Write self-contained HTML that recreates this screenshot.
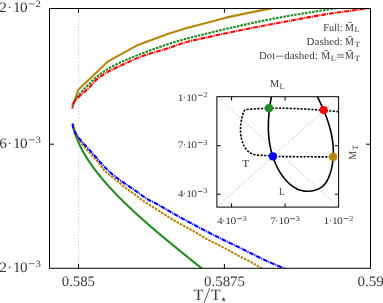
<!DOCTYPE html>
<html><head><meta charset="utf-8"><title>plot</title>
<style>html,body{margin:0;padding:0;background:#fff;overflow:hidden}svg{display:block;will-change:transform}text{font-family:"Liberation Serif",serif;text-rendering:geometricPrecision}</style></head>
<body>
<svg width="383" height="303" viewBox="0 0 383 303">
<rect width="383" height="303" fill="#fff"/>
<clipPath id="c"><rect x="49.5" y="8.5" width="321.0" height="259.8"/></clipPath>
<clipPath id="ci"><rect x="216.9" y="96.7" width="121.7" height="110.4"/></clipPath>
<line x1="78.5" y1="8.5" x2="78.5" y2="268.3" stroke="#bdbdc4" stroke-width="0.8" stroke-dasharray="1 2.1"/>
<g clip-path="url(#c)" fill="none" stroke-width="2.1" stroke-linejoin="round">
<path d="M73.10 105.40 L78.30 89.70 L108.50 61.10 L138.50 44.70 L168.50 33.75 L186.00 28.20 L206.00 23.00 L226.00 17.65 L246.00 13.40 L266.00 9.40 L272.50 8.10" stroke="#B8860B"/>
<path d="M339.88 7.50 L338.40 7.75 L336.91 8.00 L335.41 8.24 L333.90 8.49 L332.38 8.74 L330.85 8.99 L329.32 9.24 L327.78 9.48 L326.24 9.73 L324.69 9.98 L323.14 10.23 L321.58 10.48 L320.02 10.73 L318.46 10.97 L316.90 11.22 L315.34 11.47 L313.78 11.72 L312.22 11.97 L310.67 12.21 L309.11 12.46 L307.57 12.71 L306.02 12.96 L304.48 13.21 L302.95 13.45 L301.42 13.70 L299.90 13.95 L298.39 14.20 L296.89 14.45 L295.39 14.70 L293.91 14.94 L292.44 15.19 L290.98 15.44 L289.53 15.69 L288.10 15.94 L286.68 16.18 L285.28 16.43 L283.89 16.68 L282.51 16.93 L281.15 17.18 L279.81 17.42 L278.47 17.67 L277.15 17.92 L275.84 18.17 L274.55 18.42 L273.26 18.67 L271.99 18.91 L270.73 19.16 L269.48 19.41 L268.24 19.66 L267.01 19.91 L265.79 20.15 L264.58 20.40 L263.38 20.65 L262.19 20.90 L261.00 21.15 L259.83 21.39 L258.66 21.64 L257.50 21.89 L256.34 22.14 L255.20 22.39 L254.06 22.64 L252.92 22.88 L251.79 23.13 L250.67 23.38 L249.55 23.63 L248.43 23.88 L247.32 24.12 L246.21 24.37 L245.11 24.62 L244.01 24.87 L242.91 25.12 L241.82 25.36 L240.73 25.61 L239.64 25.86 L238.56 26.11 L237.48 26.36 L236.40 26.61 L235.32 26.85 L234.25 27.10 L233.18 27.35 L232.11 27.60 L231.05 27.85 L229.99 28.09 L228.93 28.34 L227.87 28.59 L226.81 28.84 L225.76 29.09 L224.71 29.33 L223.66 29.58 L222.61 29.83 L221.56 30.08 L220.52 30.33 L219.48 30.58 L218.44 30.82 L217.40 31.07 L216.36 31.32 L215.33 31.57 L214.29 31.82 L213.26 32.06 L212.23 32.31 L211.20 32.56 L210.17 32.81 L209.14 33.06 L208.11 33.30 L207.08 33.55 L206.06 33.80 L205.03 34.05 L204.01 34.30 L202.98 34.55 L201.96 34.79 L200.94 35.04 L199.93 35.29 L198.92 35.54 L197.91 35.79 L196.90 36.03 L195.90 36.28 L194.91 36.53 L193.92 36.78 L192.93 37.03 L191.95 37.27 L190.98 37.52 L190.02 37.77 L189.06 38.02 L188.11 38.27 L187.18 38.52 L186.24 38.76 L185.32 39.01 L184.41 39.26 L183.51 39.51 L182.61 39.76 L181.72 40.00 L180.85 40.25 L179.97 40.50 L179.11 40.75 L178.26 41.00 L177.41 41.24 L176.57 41.49 L175.74 41.74 L174.91 41.99 L174.09 42.24 L173.28 42.48 L172.48 42.73 L171.68 42.98 L170.89 43.23 L170.10 43.48 L169.32 43.73 L168.55 43.97 L167.78 44.22 L167.01 44.47 L166.26 44.72 L165.50 44.97 L164.76 45.21 L164.01 45.46 L163.28 45.71 L162.54 45.96 L161.81 46.21 L161.09 46.45 L160.37 46.70 L159.65 46.95 L158.94 47.20 L158.23 47.45 L157.53 47.70 L156.82 47.94 L156.12 48.19 L155.43 48.44 L154.73 48.69 L154.04 48.94 L153.36 49.18 L152.67 49.43 L151.99 49.68 L151.31 49.93 L150.63 50.18 L149.96 50.42 L149.29 50.67 L148.62 50.92 L147.95 51.17 L147.29 51.42 L146.63 51.67 L145.97 51.91 L145.32 52.16 L144.66 52.41 L144.01 52.66 L143.37 52.91 L142.72 53.15 L142.08 53.40 L141.44 53.65 L140.80 53.90 L140.17 54.15 L139.54 54.39 L138.91 54.64 L138.28 54.89 L137.66 55.14 L137.03 55.39 L136.41 55.64 L135.80 55.88 L135.18 56.13 L134.57 56.38 L133.96 56.63 L133.36 56.88 L132.75 57.12 L132.15 57.37 L131.55 57.62 L130.95 57.87 L130.36 58.12 L129.76 58.36 L129.17 58.61 L128.58 58.86 L128.00 59.11 L127.41 59.36 L126.83 59.61 L126.25 59.85 L125.68 60.10 L125.10 60.35 L124.53 60.60 L123.96 60.85 L123.40 61.09 L122.83 61.34 L122.28 61.59 L121.72 61.84 L121.17 62.09 L120.62 62.33 L120.07 62.58 L119.53 62.83 L119.00 63.08 L118.46 63.33 L117.94 63.58 L117.41 63.82 L116.89 64.07 L116.38 64.32 L115.87 64.57 L115.37 64.82 L114.87 65.06 L114.38 65.31 L113.90 65.56 L113.42 65.81 L112.94 66.06 L112.47 66.30 L112.01 66.55 L111.55 66.80 L111.09 67.05 L110.64 67.30 L110.20 67.55 L109.76 67.79 L109.32 68.04 L108.89 68.29 L108.47 68.54 L108.05 68.79 L107.63 69.03 L107.22 69.28 L106.82 69.53 L106.41 69.78 L106.02 70.03 L105.62 70.27 L105.23 70.52 L104.85 70.77 L104.47 71.02 L104.09 71.27 L103.72 71.52 L103.35 71.76 L102.99 72.01 L102.63 72.26 L102.27 72.51 L101.92 72.76 L101.57 73.00 L101.22 73.25 L100.88 73.50 L100.54 73.75 L100.21 74.00 L99.87 74.24 L99.55 74.49 L99.22 74.74 L98.90 74.99 L98.58 75.24 L98.26 75.48 L97.95 75.73 L97.64 75.98 L97.34 76.23 L97.03 76.48 L96.73 76.73 L96.43 76.97 L96.14 77.22 L95.84 77.47 L95.55 77.72 L95.27 77.97 L94.98 78.21 L94.70 78.46 L94.42 78.71 L94.14 78.96 L93.86 79.21 L93.59 79.45 L93.32 79.70 L93.05 79.95 L92.78 80.20 L92.52 80.45 L92.25 80.70 L91.99 80.94 L91.73 81.19 L91.47 81.44 L91.22 81.69 L90.96 81.94 L90.71 82.18 L90.46 82.43 L90.20 82.68 L89.95 82.93 L89.71 83.18 L89.46 83.42 L89.21 83.67 L88.97 83.92 L88.73 84.17 L88.48 84.42 L88.24 84.67 L88.00 84.91 L87.76 85.16 L87.52 85.41 L87.28 85.66 L87.05 85.91 L86.81 86.15 L86.57 86.40 L86.34 86.65 L86.10 86.90 L85.87 87.15 L85.63 87.39 L85.40 87.64 L85.16 87.89 L84.93 88.14 L84.69 88.39 L84.46 88.64 L84.22 88.88 L83.99 89.13 L83.76 89.38 L83.52 89.63 L83.29 89.88 L83.06 90.12 L82.83 90.37 L82.60 90.62 L82.37 90.87 L82.14 91.12 L81.92 91.36 L81.69 91.61 L81.47 91.86 L81.24 92.11 L81.02 92.36 L80.80 92.61 L80.58 92.85 L80.36 93.10 L80.15 93.35 L79.93 93.60 L79.72 93.85 L79.51 94.09 L79.30 94.34 L79.10 94.59 L78.89 94.84 L78.69 95.09 L78.49 95.33 L78.29 95.58 L78.09 95.83 L77.90 96.08 L77.71 96.33 L77.52 96.58 L77.34 96.82 L77.15 97.07 L76.97 97.32 L76.80 97.57 L76.62 97.82 L76.45 98.06 L76.29 98.31 L76.12 98.56 L75.96 98.81 L75.80 99.06 L75.65 99.30 L75.50 99.55 L75.35 99.80 L75.20 100.05 L75.06 100.30 L74.93 100.55 L74.80 100.79 L74.67 101.04 L74.54 101.29 L74.42 101.54 L74.31 101.79 L74.19 102.03 L74.09 102.28 L73.98 102.53 L73.88 102.78 L73.79 103.03 L73.70 103.27 L73.62 103.52 L73.54 103.77 L73.46 104.02 L73.39 104.27 L73.32 104.52 L73.26 104.76 L73.21 105.01 L73.16 105.26 L73.11 105.51 L73.07 105.76 L73.04 106.00 L73.01 106.25 L72.99 106.50" stroke="#228B22" stroke-dasharray="2.6 1.05"/>
<path d="M371.79 7.50 L370.40 7.75 L368.95 8.01 L367.45 8.26 L365.89 8.51 L364.29 8.77 L362.65 9.02 L360.96 9.27 L359.25 9.53 L357.50 9.78 L355.73 10.03 L353.94 10.28 L352.14 10.54 L350.32 10.79 L348.49 11.04 L346.66 11.30 L344.83 11.55 L343.00 11.80 L341.18 12.06 L339.37 12.31 L337.57 12.56 L335.79 12.82 L334.03 13.07 L332.29 13.32 L330.58 13.58 L328.90 13.83 L327.24 14.08 L325.62 14.33 L324.03 14.59 L322.47 14.84 L320.94 15.09 L319.44 15.35 L317.96 15.60 L316.50 15.85 L315.06 16.11 L313.64 16.36 L312.23 16.61 L310.83 16.87 L309.45 17.12 L308.07 17.37 L306.70 17.63 L305.33 17.88 L303.97 18.13 L302.61 18.38 L301.24 18.64 L299.88 18.89 L298.52 19.14 L297.16 19.40 L295.80 19.65 L294.44 19.90 L293.08 20.16 L291.72 20.41 L290.36 20.66 L289.00 20.92 L287.63 21.17 L286.27 21.42 L284.91 21.68 L283.54 21.93 L282.17 22.18 L280.81 22.43 L279.44 22.69 L278.08 22.94 L276.71 23.19 L275.35 23.45 L273.99 23.70 L272.64 23.95 L271.29 24.21 L269.94 24.46 L268.60 24.71 L267.26 24.97 L265.93 25.22 L264.61 25.47 L263.29 25.73 L261.98 25.98 L260.67 26.23 L259.37 26.48 L258.07 26.74 L256.78 26.99 L255.50 27.24 L254.22 27.50 L252.94 27.75 L251.67 28.00 L250.41 28.26 L249.15 28.51 L247.89 28.76 L246.64 29.02 L245.39 29.27 L244.15 29.52 L242.91 29.78 L241.67 30.03 L240.44 30.28 L239.21 30.54 L237.98 30.79 L236.76 31.04 L235.54 31.29 L234.33 31.55 L233.11 31.80 L231.90 32.05 L230.69 32.31 L229.48 32.56 L228.28 32.81 L227.07 33.07 L225.87 33.32 L224.67 33.57 L223.48 33.83 L222.28 34.08 L221.08 34.33 L219.89 34.59 L218.70 34.84 L217.50 35.09 L216.31 35.34 L215.12 35.60 L213.93 35.85 L212.74 36.10 L211.55 36.36 L210.36 36.61 L209.16 36.86 L207.97 37.12 L206.78 37.37 L205.59 37.62 L204.40 37.88 L203.20 38.13 L202.01 38.38 L200.83 38.64 L199.65 38.89 L198.49 39.14 L197.33 39.39 L196.18 39.65 L195.05 39.90 L193.94 40.15 L192.84 40.41 L191.76 40.66 L190.71 40.91 L189.68 41.17 L188.67 41.42 L187.70 41.67 L186.75 41.93 L185.83 42.18 L184.94 42.43 L184.08 42.69 L183.25 42.94 L182.44 43.19 L181.65 43.44 L180.88 43.70 L180.13 43.95 L179.40 44.20 L178.68 44.46 L177.97 44.71 L177.27 44.96 L176.57 45.22 L175.89 45.47 L175.20 45.72 L174.52 45.98 L173.83 46.23 L173.14 46.48 L172.44 46.74 L171.74 46.99 L171.03 47.24 L170.30 47.49 L169.57 47.75 L168.81 48.00 L168.04 48.25 L167.26 48.51 L166.46 48.76 L165.65 49.01 L164.83 49.27 L164.00 49.52 L163.16 49.77 L162.32 50.03 L161.46 50.28 L160.61 50.53 L159.74 50.79 L158.88 51.04 L158.01 51.29 L157.14 51.55 L156.27 51.80 L155.41 52.05 L154.54 52.30 L153.68 52.56 L152.83 52.81 L151.98 53.06 L151.14 53.32 L150.30 53.57 L149.48 53.82 L148.66 54.08 L147.86 54.33 L147.07 54.58 L146.30 54.84 L145.53 55.09 L144.79 55.34 L144.05 55.60 L143.33 55.85 L142.62 56.10 L141.92 56.35 L141.23 56.61 L140.55 56.86 L139.88 57.11 L139.23 57.37 L138.58 57.62 L137.94 57.87 L137.31 58.13 L136.69 58.38 L136.08 58.63 L135.47 58.89 L134.88 59.14 L134.28 59.39 L133.70 59.65 L133.12 59.90 L132.55 60.15 L131.98 60.40 L131.41 60.66 L130.85 60.91 L130.29 61.16 L129.74 61.42 L129.19 61.67 L128.64 61.92 L128.09 62.18 L127.54 62.43 L127.00 62.68 L126.45 62.94 L125.90 63.19 L125.36 63.44 L124.81 63.70 L124.26 63.95 L123.71 64.20 L123.15 64.45 L122.60 64.71 L122.04 64.96 L121.48 65.21 L120.92 65.47 L120.36 65.72 L119.80 65.97 L119.24 66.23 L118.68 66.48 L118.12 66.73 L117.57 66.99 L117.02 67.24 L116.48 67.49 L115.93 67.75 L115.40 68.00 L114.87 68.25 L114.34 68.51 L113.82 68.76 L113.31 69.01 L112.80 69.26 L112.29 69.52 L111.79 69.77 L111.30 70.02 L110.81 70.28 L110.33 70.53 L109.85 70.78 L109.38 71.04 L108.91 71.29 L108.45 71.54 L108.00 71.80 L107.54 72.05 L107.10 72.30 L106.66 72.56 L106.22 72.81 L105.79 73.06 L105.37 73.31 L104.95 73.57 L104.54 73.82 L104.13 74.07 L103.72 74.33 L103.33 74.58 L102.93 74.83 L102.55 75.09 L102.16 75.34 L101.79 75.59 L101.42 75.85 L101.05 76.10 L100.69 76.35 L100.33 76.61 L99.98 76.86 L99.64 77.11 L99.30 77.36 L98.96 77.62 L98.63 77.87 L98.31 78.12 L97.99 78.38 L97.68 78.63 L97.37 78.88 L97.07 79.14 L96.77 79.39 L96.48 79.64 L96.19 79.90 L95.91 80.15 L95.63 80.40 L95.36 80.66 L95.09 80.91 L94.83 81.16 L94.58 81.41 L94.33 81.67 L94.08 81.92 L93.84 82.17 L93.60 82.43 L93.37 82.68 L93.14 82.93 L92.92 83.19 L92.69 83.44 L92.47 83.69 L92.25 83.95 L92.03 84.20 L91.82 84.45 L91.60 84.71 L91.38 84.96 L91.17 85.21 L90.95 85.46 L90.73 85.72 L90.51 85.97 L90.29 86.22 L90.07 86.48 L89.84 86.73 L89.61 86.98 L89.38 87.24 L89.14 87.49 L88.91 87.74 L88.66 88.00 L88.41 88.25 L88.16 88.50 L87.90 88.76 L87.64 89.01 L87.37 89.26 L87.10 89.52 L86.83 89.77 L86.55 90.02 L86.27 90.27 L85.99 90.53 L85.70 90.78 L85.41 91.03 L85.12 91.29 L84.83 91.54 L84.54 91.79 L84.24 92.05 L83.94 92.30 L83.65 92.55 L83.35 92.81 L83.05 93.06 L82.75 93.31 L82.45 93.57 L82.15 93.82 L81.85 94.07 L81.55 94.32 L81.26 94.58 L80.96 94.83 L80.66 95.08 L80.37 95.34 L80.08 95.59 L79.79 95.84 L79.50 96.10 L79.21 96.35 L78.93 96.60 L78.65 96.86 L78.37 97.11 L78.10 97.36 L77.83 97.62 L77.56 97.87 L77.30 98.12 L77.04 98.37 L76.79 98.63 L76.54 98.88 L76.30 99.13 L76.06 99.39 L75.82 99.64 L75.59 99.89 L75.37 100.15 L75.16 100.40 L74.95 100.65 L74.74 100.91 L74.55 101.16 L74.36 101.41 L74.17 101.67 L74.00 101.92 L73.83 102.17 L73.67 102.42 L73.52 102.68 L73.38 102.93 L73.24 103.18 L73.12 103.44 L73.00 103.69 L72.89 103.94 L72.79 104.20 L72.71 104.45 L72.63 104.70 L72.56 104.96 L72.50 105.21 L72.45 105.46 L72.42 105.72 L72.39 105.97 L72.38 106.22 L72.38 106.47 L72.39 106.73 L72.41 106.98 L72.44 107.23 L72.49 107.49 L72.54 107.74 L72.62 107.99 L72.70 108.25 L72.80 108.50" stroke="#FF0000" stroke-dasharray="4.8 0.9 1.1 0.9"/>
<path d="M72.56 123.70 L72.63 124.06 L72.70 124.43 L72.77 124.79 L72.85 125.16 L72.93 125.52 L73.00 125.89 L73.09 126.25 L73.17 126.62 L73.25 126.98 L73.34 127.35 L73.43 127.71 L73.52 128.08 L73.61 128.44 L73.71 128.81 L73.80 129.17 L73.90 129.54 L74.00 129.90 L74.10 130.27 L74.21 130.63 L74.31 131.00 L74.42 131.36 L74.53 131.73 L74.64 132.09 L74.75 132.46 L74.87 132.82 L74.98 133.19 L75.10 133.55 L75.22 133.92 L75.34 134.28 L75.47 134.65 L75.59 135.01 L75.72 135.38 L75.85 135.74 L75.98 136.11 L76.11 136.47 L76.25 136.84 L76.38 137.20 L76.52 137.57 L76.66 137.93 L76.80 138.30 L76.94 138.66 L77.09 139.03 L77.23 139.39 L77.38 139.76 L77.53 140.12 L77.68 140.49 L77.84 140.85 L77.99 141.22 L78.15 141.58 L78.31 141.95 L78.47 142.31 L78.63 142.68 L78.79 143.04 L78.96 143.41 L79.13 143.77 L79.29 144.14 L79.46 144.50 L79.64 144.86 L79.81 145.23 L79.99 145.59 L80.16 145.96 L80.34 146.32 L80.52 146.69 L80.70 147.05 L80.89 147.42 L81.07 147.78 L81.26 148.15 L81.45 148.51 L81.64 148.88 L81.83 149.24 L82.02 149.61 L82.21 149.97 L82.41 150.34 L82.61 150.70 L82.81 151.07 L83.01 151.43 L83.21 151.80 L83.42 152.16 L83.62 152.53 L83.83 152.89 L84.04 153.26 L84.25 153.62 L84.46 153.99 L84.67 154.35 L84.89 154.72 L85.10 155.08 L85.32 155.45 L85.54 155.81 L85.76 156.18 L85.98 156.54 L86.21 156.91 L86.43 157.27 L86.66 157.64 L86.89 158.00 L87.12 158.37 L87.35 158.73 L87.58 159.10 L87.82 159.46 L88.05 159.83 L88.29 160.19 L88.53 160.56 L88.77 160.92 L89.01 161.29 L89.25 161.65 L89.50 162.02 L89.74 162.38 L89.99 162.75 L90.24 163.11 L90.49 163.48 L90.74 163.84 L90.99 164.21 L91.25 164.57 L91.50 164.94 L91.76 165.30 L92.02 165.66 L92.28 166.03 L92.54 166.39 L92.80 166.76 L93.07 167.12 L93.33 167.49 L93.60 167.85 L93.87 168.22 L94.14 168.58 L94.41 168.95 L94.68 169.31 L94.95 169.68 L95.23 170.04 L95.50 170.41 L95.78 170.77 L96.06 171.14 L96.34 171.50 L96.62 171.87 L96.90 172.23 L97.19 172.60 L97.47 172.96 L97.76 173.33 L98.05 173.69 L98.34 174.06 L98.63 174.42 L98.92 174.79 L99.21 175.15 L99.51 175.52 L99.80 175.88 L100.10 176.25 L100.40 176.61 L100.69 176.98 L100.99 177.34 L101.30 177.71 L101.60 178.07 L101.90 178.44 L102.21 178.80 L102.51 179.17 L102.82 179.53 L103.13 179.90 L103.44 180.26 L103.75 180.63 L104.06 180.99 L104.38 181.36 L104.69 181.72 L105.01 182.09 L105.33 182.45 L105.64 182.82 L105.96 183.18 L106.28 183.55 L106.61 183.91 L106.93 184.28 L107.25 184.64 L107.58 185.01 L107.90 185.37 L108.23 185.74 L108.56 186.10 L108.89 186.46 L109.22 186.83 L109.55 187.19 L109.88 187.56 L110.22 187.92 L110.55 188.29 L110.89 188.65 L111.23 189.02 L111.56 189.38 L111.90 189.75 L112.24 190.11 L112.58 190.48 L112.93 190.84 L113.27 191.21 L113.61 191.57 L113.96 191.94 L114.31 192.30 L114.65 192.67 L115.00 193.03 L115.35 193.40 L115.70 193.76 L116.06 194.13 L116.41 194.49 L116.76 194.86 L117.12 195.22 L117.47 195.59 L117.83 195.95 L118.19 196.32 L118.55 196.68 L118.90 197.05 L119.27 197.41 L119.63 197.78 L119.99 198.14 L120.35 198.51 L120.72 198.87 L121.08 199.24 L121.45 199.60 L121.82 199.97 L122.18 200.33 L122.55 200.70 L122.92 201.06 L123.29 201.43 L123.67 201.79 L124.04 202.16 L124.41 202.52 L124.79 202.89 L125.16 203.25 L125.54 203.62 L125.92 203.98 L126.29 204.35 L126.67 204.71 L127.05 205.08 L127.43 205.44 L127.81 205.81 L128.20 206.17 L128.58 206.54 L128.96 206.90 L129.35 207.26 L129.73 207.63 L130.12 207.99 L130.51 208.36 L130.90 208.72 L131.28 209.09 L131.67 209.45 L132.07 209.82 L132.46 210.18 L132.85 210.55 L133.24 210.91 L133.64 211.28 L134.03 211.64 L134.42 212.01 L134.82 212.37 L135.22 212.74 L135.62 213.10 L136.01 213.47 L136.41 213.83 L136.81 214.20 L137.21 214.56 L137.61 214.93 L138.02 215.29 L138.42 215.66 L138.82 216.02 L139.23 216.39 L139.63 216.75 L140.04 217.12 L140.44 217.48 L140.85 217.85 L141.26 218.21 L141.67 218.58 L142.08 218.94 L142.49 219.31 L142.90 219.67 L143.31 220.04 L143.72 220.40 L144.13 220.77 L144.54 221.13 L144.96 221.50 L145.37 221.86 L145.79 222.23 L146.20 222.59 L146.62 222.96 L147.04 223.32 L147.45 223.69 L147.87 224.05 L148.29 224.42 L148.71 224.78 L149.13 225.15 L149.55 225.51 L149.97 225.88 L150.39 226.24 L150.81 226.61 L151.24 226.97 L151.66 227.34 L152.08 227.70 L152.51 228.06 L152.93 228.43 L153.36 228.79 L153.79 229.16 L154.21 229.52 L154.64 229.89 L155.07 230.25 L155.50 230.62 L155.92 230.98 L156.35 231.35 L156.78 231.71 L157.21 232.08 L157.65 232.44 L158.08 232.81 L158.51 233.17 L158.94 233.54 L159.37 233.90 L159.81 234.27 L160.24 234.63 L160.68 235.00 L161.11 235.36 L161.55 235.73 L161.98 236.09 L162.42 236.46 L162.85 236.82 L163.29 237.19 L163.73 237.55 L164.17 237.92 L164.60 238.28 L165.04 238.65 L165.48 239.01 L165.92 239.38 L166.36 239.74 L166.80 240.11 L167.24 240.47 L167.68 240.84 L168.13 241.20 L168.57 241.57 L169.01 241.93 L169.45 242.30 L169.90 242.66 L170.34 243.03 L170.78 243.39 L171.23 243.76 L171.67 244.12 L172.12 244.49 L172.56 244.85 L173.01 245.22 L173.45 245.58 L173.90 245.95 L174.34 246.31 L174.79 246.68 L175.24 247.04 L175.69 247.41 L176.13 247.77 L176.58 248.14 L177.03 248.50 L177.48 248.86 L177.93 249.23 L178.38 249.59 L178.83 249.96 L179.28 250.32 L179.73 250.69 L180.18 251.05 L180.63 251.42 L181.08 251.78 L181.53 252.15 L181.98 252.51 L182.43 252.88 L182.88 253.24 L183.33 253.61 L183.79 253.97 L184.24 254.34 L184.69 254.70 L185.14 255.07 L185.60 255.43 L186.05 255.80 L186.50 256.16 L186.96 256.53 L187.41 256.89 L187.86 257.26 L188.32 257.62 L188.77 257.99 L189.23 258.35 L189.68 258.72 L190.14 259.08 L190.59 259.45 L191.05 259.81 L191.50 260.18 L191.96 260.54 L192.41 260.91 L192.87 261.27 L193.32 261.64 L193.78 262.00 L194.23 262.37 L194.69 262.73 L195.15 263.10 L195.60 263.46 L196.06 263.83 L196.51 264.19 L196.97 264.56 L197.43 264.92 L197.88 265.29 L198.34 265.65 L198.80 266.02 L199.25 266.38 L199.71 266.75 L200.17 267.11 L200.62 267.48 L201.08 267.84 L201.54 268.21 L201.99 268.57 L202.45 268.94 L202.91 269.30" stroke="#228B22"/>
<path d="M72.80 123.70 L72.92 124.06 L73.03 124.43 L73.15 124.79 L73.26 125.16 L73.38 125.52 L73.49 125.89 L73.61 126.25 L73.72 126.62 L73.84 126.98 L73.95 127.35 L74.07 127.71 L74.19 128.08 L74.31 128.44 L74.43 128.81 L74.55 129.17 L74.67 129.53 L74.80 129.90 L74.92 130.26 L75.05 130.63 L75.18 130.99 L75.31 131.36 L75.44 131.72 L75.58 132.09 L75.72 132.45 L75.86 132.82 L76.00 133.18 L76.15 133.55 L76.30 133.91 L76.45 134.28 L76.60 134.64 L76.76 135.00 L76.92 135.37 L77.09 135.73 L77.26 136.10 L77.43 136.46 L77.60 136.83 L77.78 137.19 L77.97 137.56 L78.16 137.92 L78.35 138.29 L78.55 138.65 L78.75 139.02 L78.95 139.38 L79.16 139.75 L79.38 140.11 L79.60 140.47 L79.83 140.84 L80.06 141.20 L80.30 141.57 L80.54 141.93 L80.79 142.30 L81.04 142.66 L81.30 143.03 L81.57 143.39 L81.84 143.76 L82.11 144.12 L82.39 144.49 L82.67 144.85 L82.96 145.22 L83.25 145.58 L83.55 145.94 L83.85 146.31 L84.15 146.67 L84.46 147.04 L84.77 147.40 L85.08 147.77 L85.40 148.13 L85.72 148.50 L86.04 148.86 L86.37 149.23 L86.69 149.59 L87.02 149.96 L87.35 150.32 L87.68 150.68 L88.02 151.05 L88.35 151.41 L88.69 151.78 L89.03 152.14 L89.36 152.51 L89.70 152.87 L90.04 153.24 L90.38 153.60 L90.72 153.97 L91.06 154.33 L91.40 154.70 L91.74 155.06 L92.08 155.43 L92.41 155.79 L92.75 156.15 L93.09 156.52 L93.42 156.88 L93.75 157.25 L94.08 157.61 L94.41 157.98 L94.74 158.34 L95.06 158.71 L95.39 159.07 L95.71 159.44 L96.02 159.80 L96.34 160.17 L96.65 160.53 L96.96 160.90 L97.26 161.26 L97.57 161.62 L97.86 161.99 L98.16 162.35 L98.45 162.72 L98.73 163.08 L99.01 163.45 L99.29 163.81 L99.56 164.18 L99.83 164.54 L100.09 164.91 L100.35 165.27 L100.61 165.64 L100.87 166.00 L101.13 166.37 L101.39 166.73 L101.66 167.09 L101.93 167.46 L102.20 167.82 L102.47 168.19 L102.76 168.55 L103.05 168.92 L103.34 169.28 L103.65 169.65 L103.96 170.01 L104.29 170.38 L104.63 170.74 L104.98 171.11 L105.34 171.47 L105.72 171.84 L106.11 172.20 L106.52 172.56 L106.94 172.93 L107.38 173.29 L107.83 173.66 L108.28 174.02 L108.75 174.39 L109.22 174.75 L109.70 175.12 L110.19 175.48 L110.68 175.85 L111.17 176.21 L111.67 176.58 L112.16 176.94 L112.66 177.31 L113.16 177.67 L113.65 178.03 L114.14 178.40 L114.62 178.76 L115.10 179.13 L115.57 179.49 L116.04 179.86 L116.50 180.22 L116.95 180.59 L117.40 180.95 L117.85 181.32 L118.29 181.68 L118.73 182.05 L119.16 182.41 L119.59 182.78 L120.02 183.14 L120.45 183.50 L120.88 183.87 L121.31 184.23 L121.74 184.60 L122.16 184.96 L122.59 185.33 L123.02 185.69 L123.46 186.06 L123.89 186.42 L124.33 186.79 L124.77 187.15 L125.21 187.52 L125.66 187.88 L126.12 188.25 L126.59 188.61 L127.06 188.97 L127.55 189.34 L128.05 189.70 L128.56 190.07 L129.08 190.43 L129.62 190.80 L130.17 191.16 L130.73 191.53 L131.30 191.89 L131.86 192.26 L132.41 192.62 L132.94 192.99 L133.45 193.35 L133.95 193.72 L134.43 194.08 L134.89 194.44 L135.35 194.81 L135.79 195.17 L136.23 195.54 L136.66 195.90 L137.09 196.27 L137.52 196.63 L137.96 197.00 L138.40 197.36 L138.85 197.73 L139.31 198.09 L139.78 198.46 L140.27 198.82 L140.77 199.18 L141.27 199.55 L141.79 199.91 L142.32 200.28 L142.85 200.64 L143.39 201.01 L143.94 201.37 L144.50 201.74 L145.06 202.10 L145.63 202.47 L146.20 202.83 L146.78 203.20 L147.36 203.56 L147.94 203.93 L148.52 204.29 L149.11 204.65 L149.69 205.02 L150.28 205.38 L150.86 205.75 L151.45 206.11 L152.03 206.48 L152.61 206.84 L153.20 207.21 L153.78 207.57 L154.36 207.94 L154.94 208.30 L155.53 208.67 L156.11 209.03 L156.68 209.40 L157.26 209.76 L157.84 210.12 L158.41 210.49 L158.99 210.85 L159.56 211.22 L160.13 211.58 L160.70 211.95 L161.27 212.31 L161.84 212.68 L162.41 213.04 L162.99 213.41 L163.56 213.77 L164.13 214.14 L164.70 214.50 L165.27 214.87 L165.85 215.23 L166.42 215.59 L167.00 215.96 L167.58 216.32 L168.16 216.69 L168.74 217.05 L169.33 217.42 L169.91 217.78 L170.50 218.15 L171.10 218.51 L171.69 218.88 L172.29 219.24 L172.89 219.61 L173.50 219.97 L174.10 220.34 L174.72 220.70 L175.33 221.06 L175.95 221.43 L176.58 221.79 L177.21 222.16 L177.84 222.52 L178.48 222.89 L179.12 223.25 L179.76 223.62 L180.41 223.98 L181.05 224.35 L181.71 224.71 L182.36 225.08 L183.02 225.44 L183.67 225.81 L184.33 226.17 L184.99 226.53 L185.65 226.90 L186.31 227.26 L186.98 227.63 L187.64 227.99 L188.30 228.36 L188.96 228.72 L189.62 229.09 L190.28 229.45 L190.94 229.82 L191.60 230.18 L192.26 230.55 L192.91 230.91 L193.57 231.28 L194.22 231.64 L194.86 232.00 L195.51 232.37 L196.15 232.73 L196.79 233.10 L197.43 233.46 L198.06 233.83 L198.69 234.19 L199.31 234.56 L199.93 234.92 L200.54 235.29 L201.15 235.65 L201.76 236.02 L202.37 236.38 L202.98 236.75 L203.59 237.11 L204.21 237.47 L204.83 237.84 L205.45 238.20 L206.08 238.57 L206.71 238.93 L207.35 239.30 L208.01 239.66 L208.67 240.03 L209.34 240.39 L210.03 240.76 L210.72 241.12 L211.43 241.49 L212.14 241.85 L212.86 242.22 L213.59 242.58 L214.32 242.94 L215.06 243.31 L215.80 243.67 L216.54 244.04 L217.28 244.40 L218.03 244.77 L218.77 245.13 L219.51 245.50 L220.25 245.86 L220.98 246.23 L221.70 246.59 L222.42 246.96 L223.14 247.32 L223.84 247.68 L224.54 248.05 L225.24 248.41 L225.93 248.78 L226.61 249.14 L227.29 249.51 L227.96 249.87 L228.63 250.24 L229.30 250.60 L229.96 250.97 L230.63 251.33 L231.28 251.70 L231.94 252.06 L232.60 252.43 L233.25 252.79 L233.90 253.15 L234.56 253.52 L235.21 253.88 L235.86 254.25 L236.52 254.61 L237.18 254.98 L237.85 255.34 L238.52 255.71 L239.20 256.07 L239.89 256.44 L240.59 256.80 L241.31 257.17 L242.03 257.53 L242.77 257.90 L243.50 258.26 L244.24 258.62 L244.97 258.99 L245.70 259.35 L246.41 259.72 L247.12 260.08 L247.82 260.45 L248.51 260.81 L249.19 261.18 L249.86 261.54 L250.53 261.91 L251.19 262.27 L251.85 262.64 L252.50 263.00 L253.14 263.37 L253.78 263.73 L254.41 264.09 L255.04 264.46 L255.66 264.82 L256.28 265.19 L256.90 265.55 L257.51 265.92 L258.12 266.28 L258.73 266.65 L259.33 267.01 L259.94 267.38 L260.54 267.74 L261.14 268.11 L261.74 268.47 L262.34 268.84 L262.94 269.20" stroke="#B8860B" stroke-dasharray="2.6 1.05"/>
<path d="M72.79 123.70 L72.78 124.06 L72.78 124.43 L72.79 124.79 L72.80 125.16 L72.83 125.52 L72.87 125.89 L72.92 126.25 L72.98 126.62 L73.05 126.98 L73.13 127.34 L73.21 127.71 L73.31 128.07 L73.41 128.44 L73.53 128.80 L73.65 129.17 L73.78 129.53 L73.92 129.89 L74.06 130.26 L74.22 130.62 L74.38 130.99 L74.55 131.35 L74.73 131.72 L74.91 132.08 L75.10 132.45 L75.30 132.81 L75.51 133.17 L75.72 133.54 L75.94 133.90 L76.16 134.27 L76.39 134.63 L76.63 135.00 L76.87 135.36 L77.12 135.73 L77.37 136.09 L77.63 136.45 L77.90 136.82 L78.17 137.18 L78.44 137.55 L78.72 137.91 L79.00 138.28 L79.29 138.64 L79.58 139.01 L79.87 139.37 L80.17 139.73 L80.48 140.10 L80.78 140.46 L81.09 140.83 L81.41 141.19 L81.72 141.56 L82.04 141.92 L82.36 142.28 L82.69 142.65 L83.01 143.01 L83.34 143.38 L83.67 143.74 L84.00 144.11 L84.34 144.47 L84.67 144.84 L85.01 145.20 L85.35 145.56 L85.69 145.93 L86.03 146.29 L86.37 146.66 L86.71 147.02 L87.06 147.39 L87.40 147.75 L87.74 148.12 L88.08 148.48 L88.43 148.84 L88.77 149.21 L89.11 149.57 L89.45 149.94 L89.79 150.30 L90.13 150.67 L90.47 151.03 L90.80 151.40 L91.14 151.76 L91.47 152.12 L91.80 152.49 L92.13 152.85 L92.46 153.22 L92.79 153.58 L93.11 153.95 L93.43 154.31 L93.75 154.67 L94.07 155.04 L94.39 155.40 L94.71 155.77 L95.03 156.13 L95.35 156.50 L95.66 156.86 L95.98 157.23 L96.29 157.59 L96.61 157.95 L96.92 158.32 L97.24 158.68 L97.55 159.05 L97.87 159.41 L98.18 159.78 L98.50 160.14 L98.82 160.51 L99.13 160.87 L99.45 161.23 L99.77 161.60 L100.09 161.96 L100.41 162.33 L100.73 162.69 L101.06 163.06 L101.38 163.42 L101.71 163.79 L102.04 164.15 L102.37 164.51 L102.71 164.88 L103.04 165.24 L103.38 165.61 L103.72 165.97 L104.06 166.34 L104.41 166.70 L104.76 167.06 L105.11 167.43 L105.46 167.79 L105.82 168.16 L106.18 168.52 L106.54 168.89 L106.91 169.25 L107.28 169.62 L107.66 169.98 L108.03 170.34 L108.42 170.71 L108.80 171.07 L109.19 171.44 L109.59 171.80 L109.99 172.17 L110.39 172.53 L110.80 172.90 L111.22 173.26 L111.64 173.62 L112.06 173.99 L112.49 174.35 L112.92 174.72 L113.36 175.08 L113.81 175.45 L114.26 175.81 L114.72 176.18 L115.18 176.54 L115.65 176.90 L116.12 177.27 L116.60 177.63 L117.08 178.00 L117.57 178.36 L118.06 178.73 L118.56 179.09 L119.06 179.45 L119.56 179.82 L120.07 180.18 L120.58 180.55 L121.10 180.91 L121.61 181.28 L122.13 181.64 L122.66 182.01 L123.18 182.37 L123.71 182.73 L124.24 183.10 L124.77 183.46 L125.30 183.83 L125.84 184.19 L126.37 184.56 L126.91 184.92 L127.44 185.29 L127.98 185.65 L128.52 186.01 L129.06 186.38 L129.60 186.74 L130.14 187.11 L130.67 187.47 L131.21 187.84 L131.75 188.20 L132.28 188.57 L132.82 188.93 L133.35 189.29 L133.88 189.66 L134.41 190.02 L134.94 190.39 L135.46 190.75 L135.98 191.12 L136.50 191.48 L137.02 191.84 L137.54 192.21 L138.05 192.57 L138.56 192.94 L139.06 193.30 L139.56 193.67 L140.06 194.03 L140.55 194.40 L141.04 194.76 L141.54 195.12 L142.03 195.49 L142.53 195.85 L143.03 196.22 L143.54 196.58 L144.06 196.95 L144.59 197.31 L145.13 197.68 L145.68 198.04 L146.25 198.40 L146.84 198.77 L147.44 199.13 L148.07 199.50 L148.72 199.86 L149.39 200.23 L150.08 200.59 L150.79 200.96 L151.52 201.32 L152.26 201.68 L153.00 202.05 L153.75 202.41 L154.50 202.78 L155.24 203.14 L155.98 203.51 L156.70 203.87 L157.40 204.23 L158.09 204.60 L158.75 204.96 L159.40 205.33 L160.04 205.69 L160.66 206.06 L161.27 206.42 L161.88 206.79 L162.48 207.15 L163.08 207.51 L163.68 207.88 L164.29 208.24 L164.90 208.61 L165.51 208.97 L166.12 209.34 L166.74 209.70 L167.36 210.07 L167.98 210.43 L168.60 210.79 L169.23 211.16 L169.86 211.52 L170.49 211.89 L171.13 212.25 L171.76 212.62 L172.40 212.98 L173.04 213.35 L173.69 213.71 L174.33 214.07 L174.98 214.44 L175.63 214.80 L176.28 215.17 L176.93 215.53 L177.59 215.90 L178.25 216.26 L178.91 216.62 L179.57 216.99 L180.23 217.35 L180.89 217.72 L181.56 218.08 L182.23 218.45 L182.89 218.81 L183.56 219.18 L184.24 219.54 L184.91 219.90 L185.58 220.27 L186.26 220.63 L186.94 221.00 L187.61 221.36 L188.29 221.73 L188.97 222.09 L189.65 222.46 L190.33 222.82 L191.02 223.18 L191.70 223.55 L192.38 223.91 L193.07 224.28 L193.76 224.64 L194.44 225.01 L195.13 225.37 L195.82 225.74 L196.50 226.10 L197.19 226.46 L197.88 226.83 L198.57 227.19 L199.26 227.56 L199.95 227.92 L200.64 228.29 L201.33 228.65 L202.02 229.01 L202.71 229.38 L203.40 229.74 L204.10 230.11 L204.79 230.47 L205.49 230.84 L206.18 231.20 L206.88 231.57 L207.58 231.93 L208.28 232.29 L208.98 232.66 L209.69 233.02 L210.40 233.39 L211.10 233.75 L211.81 234.12 L212.53 234.48 L213.24 234.85 L213.96 235.21 L214.68 235.57 L215.40 235.94 L216.13 236.30 L216.86 236.67 L217.59 237.03 L218.32 237.40 L219.06 237.76 L219.80 238.13 L220.55 238.49 L221.29 238.85 L222.04 239.22 L222.80 239.58 L223.56 239.95 L224.32 240.31 L225.08 240.68 L225.84 241.04 L226.61 241.40 L227.38 241.77 L228.14 242.13 L228.91 242.50 L229.68 242.86 L230.45 243.23 L231.21 243.59 L231.98 243.96 L232.74 244.32 L233.50 244.68 L234.26 245.05 L235.02 245.41 L235.77 245.78 L236.52 246.14 L237.26 246.51 L238.01 246.87 L238.75 247.24 L239.49 247.60 L240.22 247.96 L240.96 248.33 L241.69 248.69 L242.42 249.06 L243.15 249.42 L243.88 249.79 L244.61 250.15 L245.33 250.52 L246.06 250.88 L246.79 251.24 L247.51 251.61 L248.24 251.97 L248.96 252.34 L249.69 252.70 L250.42 253.07 L251.15 253.43 L251.88 253.79 L252.61 254.16 L253.34 254.52 L254.07 254.89 L254.81 255.25 L255.55 255.62 L256.29 255.98 L257.03 256.35 L257.78 256.71 L258.53 257.07 L259.28 257.44 L260.03 257.80 L260.79 258.17 L261.56 258.53 L262.32 258.90 L263.09 259.26 L263.87 259.63 L264.65 259.99 L265.43 260.35 L266.22 260.72 L267.02 261.08 L267.82 261.45 L268.63 261.81 L269.44 262.18 L270.26 262.54 L271.08 262.91 L271.91 263.27 L272.75 263.63 L273.60 264.00 L274.45 264.36 L275.31 264.73 L276.18 265.09 L277.05 265.46 L277.93 265.82 L278.82 266.18 L279.72 266.55 L280.63 266.91 L281.55 267.28 L282.47 267.64 L283.41 268.01 L284.35 268.37 L285.30 268.74 L286.27 269.10" stroke="#0000FF" stroke-dasharray="4.8 0.9 1.1 0.9"/>
</g>
<g stroke="#000" stroke-width="1" fill="none">
<rect x="49.5" y="8.5" width="321.0" height="259.8"/>
<path d="M78.5 268.3v-4.3M78.5 8.5v4.3"/>
<path d="M224.4 268.3v-4.3M224.4 8.5v4.3"/>
<path d="M49.5 144.2h4.4M370.5 144.2h-4.4"/>
</g>
<g stroke="#a4a4ac" stroke-width="0.9" stroke-dasharray="1 2" fill="none"><path d="M216.9 96.7L338.6 207.1M216.9 207.1L338.6 96.7"/></g>
<g clip-path="url(#ci)" fill="none" stroke="#000" stroke-width="1.6">
<path d="M271.43 96.58 L271.10 98.40 L270.78 100.23 L270.47 102.08 L270.18 103.92 L269.91 105.78 L269.66 107.64 L269.43 109.50 L269.21 111.37 L269.02 113.24 L268.85 115.11 L268.70 116.99 L268.58 118.87 L268.48 120.74 L268.41 122.62 L268.36 124.50 L268.34 126.37 L268.35 128.25 L268.39 130.12 L268.47 131.98 L268.57 133.85 L268.71 135.71 L268.88 137.57 L269.08 139.42 L269.32 141.27 L269.60 143.12 L269.91 144.97 L270.27 146.81 L270.66 148.65 L271.10 150.49 L271.57 152.32 L272.09 154.15 L272.65 155.98 L273.26 157.80 L273.91 159.62 L274.61 161.43 L275.35 163.22 L276.13 165.00 L276.97 166.75 L277.84 168.48 L278.77 170.18 L279.74 171.85 L280.76 173.48 L281.82 175.07 L282.93 176.61 L284.08 178.11 L285.29 179.55 L286.54 180.95 L287.84 182.28 L289.18 183.54 L290.57 184.74 L292.02 185.85 L293.51 186.88 L295.04 187.82 L296.63 188.66 L298.26 189.40 L299.95 190.02 L301.68 190.52 L303.46 190.90 L305.29 191.14 L307.17 191.24 L309.10 191.20 L311.08 191.00 L313.07 190.66 L315.03 190.16 L316.95 189.53 L318.77 188.75 L320.46 187.84 L321.99 186.80 L323.35 185.64 L324.57 184.36 L325.65 182.98 L326.63 181.50 L327.50 179.95 L328.29 178.32 L329.02 176.63 L329.68 174.89 L330.29 173.09 L330.84 171.26 L331.32 169.39 L331.76 167.49 L332.13 165.57 L332.46 163.63 L332.72 161.68 L332.94 159.73 L333.11 157.78 L333.23 155.83 L333.30 153.90 L333.32 151.99 L333.29 150.08 L333.23 148.18 L333.11 146.30 L332.96 144.42 L332.77 142.56 L332.53 140.70 L332.26 138.86 L331.95 137.02 L331.60 135.19 L331.22 133.37 L330.81 131.56 L330.36 129.76 L329.88 127.96 L329.38 126.17 L328.84 124.39 L328.28 122.62 L327.69 120.85 L327.08 119.09 L326.44 117.33 L325.78 115.58 L325.10 113.83 L324.40 112.09 L323.68 110.35 L322.94 108.62 L322.19 106.89 L321.42 105.16 L320.64 103.44 L319.84 101.72 L319.04 100.01 L318.22 98.29 L317.40 96.58"/>
<path d="M338.60 111.64 L336.25 111.43 L333.89 111.22 L331.54 111.01 L329.18 110.81 L326.82 110.61 L324.46 110.41 L322.10 110.22 L319.74 110.04 L317.37 109.86 L315.01 109.69 L312.65 109.53 L310.28 109.37 L307.92 109.22 L305.55 109.08 L303.19 108.95 L300.82 108.83 L298.45 108.72 L296.09 108.61 L293.72 108.52 L291.35 108.44 L288.98 108.37 L286.61 108.31 L284.25 108.26 L281.88 108.22 L279.51 108.20 L277.14 108.19 L274.77 108.20 L272.41 108.22 L270.04 108.25 L267.67 108.30 L265.31 108.37 L262.94 108.45 L260.58 108.54 L258.21 108.66 L255.85 108.79 L253.49 108.94 L251.12 109.10 L248.76 109.29 L246.40 109.49 Q244.4 109.65 243.64 111.84 L243.38 112.62 L243.13 113.41 L242.88 114.21 L242.65 115.01 L242.42 115.83 L242.21 116.64 L242.00 117.47 L241.81 118.29 L241.63 119.13 L241.46 119.96 L241.30 120.81 L241.15 121.65 L241.02 122.50 L240.90 123.35 L240.80 124.21 L240.70 125.07 L240.63 125.93 L240.56 126.79 L240.52 127.65 L240.49 128.51 L240.47 129.38 L240.47 130.24 L240.49 131.10 L240.53 131.97 L240.58 132.83 L240.65 133.69 L240.74 134.55 L240.85 135.40 L240.98 136.26 L241.13 137.11 L241.30 137.96 L241.49 138.80 L241.70 139.64 L241.93 140.48 L242.18 141.31 L242.46 142.14 L242.76 142.96 L243.08 143.77 L243.42 144.57 L243.79 145.35 L244.18 146.12 L244.60 146.87 L245.04 147.60 L245.50 148.31 L245.99 148.99 L246.51 149.64 L247.05 150.26 L247.62 150.85 L248.21 151.40 L248.84 151.92 L249.49 152.39 L250.16 152.83 L250.87 153.21 L251.60 153.56 L252.36 153.86 L253.13 154.13 L253.93 154.36 L254.75 154.56 L255.59 154.73 L256.44 154.87 L257.30 154.99 L258.18 155.09 L259.06 155.18 L259.95 155.24 L260.85 155.30 L261.75 155.34 L262.65 155.38 L263.55 155.42 L264.44 155.46 L265.33 155.50 L266.22 155.54 L267.10 155.60 L267.96 155.66 L268.82 155.74 L269.66 155.84 L270.48 155.96 L271.29 156.10 L272.07 156.26 L272.84 156.46 L300 156.75 L333.2 156.9" stroke-dasharray="2.2 1.4"/>
</g>
<g stroke="#000" stroke-width="1" fill="none">
<rect x="216.9" y="96.7" width="121.7" height="110.4"/>
<path d="M231.6 207.1v-3.8M231.6 96.7v3.8"/>
<path d="M285.1 207.1v-3.8M285.1 96.7v3.8"/>
<path d="M216.9 145.7h3.8M338.6 145.7h-3.8"/>
<path d="M216.9 194.2h3.8M338.6 194.2h-3.8"/>
</g>
<circle cx="269.0" cy="108.2" r="4.1" fill="#228B22"/>
<circle cx="323.6" cy="110.1" r="4.1" fill="#FF0000"/>
<circle cx="272.9" cy="156.4" r="4.1" fill="#0000FF"/>
<circle cx="333.2" cy="156.9" r="4.1" fill="#B8860B"/>
<g font-family="'Liberation Serif', serif" fill="#3a3a3a">
<text transform="translate(3.10 12.20) scale(1.060 1)" font-size="14.40" text-anchor="middle">2</text><text transform="translate(9.75 12.20) scale(1.000 1)" font-size="14.40" text-anchor="middle">·</text><text transform="translate(16.70 12.20) scale(1.060 1)" font-size="14.40" text-anchor="middle">1</text><text transform="translate(23.70 12.20) scale(1.060 1)" font-size="14.40" text-anchor="middle">0</text><path d="M28.60 3.90H34.80" stroke="#3a3a3a" stroke-width="0.75" fill="none"/><text transform="translate(38.10 6.80) scale(1.100 1)" font-size="9.80" text-anchor="middle">2</text>
<text transform="translate(3.10 148.20) scale(1.060 1)" font-size="14.40" text-anchor="middle">6</text><text transform="translate(9.75 148.20) scale(1.000 1)" font-size="14.40" text-anchor="middle">·</text><text transform="translate(16.70 148.20) scale(1.060 1)" font-size="14.40" text-anchor="middle">1</text><text transform="translate(23.70 148.20) scale(1.060 1)" font-size="14.40" text-anchor="middle">0</text><path d="M28.60 139.90H34.80" stroke="#3a3a3a" stroke-width="0.75" fill="none"/><text transform="translate(38.10 142.80) scale(1.100 1)" font-size="9.80" text-anchor="middle">3</text>
<text transform="translate(3.10 272.00) scale(1.060 1)" font-size="14.40" text-anchor="middle">2</text><text transform="translate(9.75 272.00) scale(1.000 1)" font-size="14.40" text-anchor="middle">·</text><text transform="translate(16.70 272.00) scale(1.060 1)" font-size="14.40" text-anchor="middle">1</text><text transform="translate(23.70 272.00) scale(1.060 1)" font-size="14.40" text-anchor="middle">0</text><path d="M28.60 263.70H34.80" stroke="#3a3a3a" stroke-width="0.75" fill="none"/><text transform="translate(38.10 266.60) scale(1.100 1)" font-size="9.80" text-anchor="middle">3</text>
<text x="78.40" y="285.80" font-size="14.40" textLength="33.20" lengthAdjust="spacingAndGlyphs" text-anchor="middle">0.585</text>
<text x="224.50" y="285.80" font-size="14.40" textLength="41.00" lengthAdjust="spacingAndGlyphs" text-anchor="middle">0.5875</text>
<text x="370.60" y="285.80" font-size="14.40" textLength="26.40" lengthAdjust="spacingAndGlyphs" text-anchor="middle">0.59</text>
<text transform="translate(198.35 300.00) scale(1.030 1)" font-size="15.80" text-anchor="middle">T</text>
<text transform="translate(215.60 300.00) scale(1.030 1)" font-size="15.80" text-anchor="middle">T</text>
<path d="M204.0 303.0L209.7 288.2" stroke="#3a3a3a" stroke-width="0.85" fill="none"/>
<polygon points="223.60,297.00 224.16,298.73 225.98,298.73 224.50,299.79 225.07,301.52 223.60,300.45 222.13,301.52 222.70,299.79 221.22,298.73 223.04,298.73"/>
<text transform="translate(180.60 101.10) scale(1.150 1)" font-size="10.00" text-anchor="middle">1</text><text transform="translate(184.50 101.10) scale(1.000 1)" font-size="10.00" text-anchor="middle">·</text><text transform="translate(189.00 101.10) scale(1.150 1)" font-size="10.00" text-anchor="middle">1</text><text transform="translate(194.10 101.10) scale(1.150 1)" font-size="10.00" text-anchor="middle">0</text><path d="M197.80 95.35H202.60" stroke="#3a3a3a" stroke-width="0.80" fill="none"/><text transform="translate(205.40 97.30) scale(1.200 1)" font-size="7.30" text-anchor="middle">2</text>
<text transform="translate(180.60 148.30) scale(1.150 1)" font-size="10.00" text-anchor="middle">7</text><text transform="translate(184.50 148.30) scale(1.000 1)" font-size="10.00" text-anchor="middle">·</text><text transform="translate(189.00 148.30) scale(1.150 1)" font-size="10.00" text-anchor="middle">1</text><text transform="translate(194.10 148.30) scale(1.150 1)" font-size="10.00" text-anchor="middle">0</text><path d="M197.80 142.55H202.60" stroke="#3a3a3a" stroke-width="0.80" fill="none"/><text transform="translate(205.40 144.50) scale(1.200 1)" font-size="7.30" text-anchor="middle">3</text>
<text transform="translate(180.60 197.20) scale(1.150 1)" font-size="10.00" text-anchor="middle">4</text><text transform="translate(184.50 197.20) scale(1.000 1)" font-size="10.00" text-anchor="middle">·</text><text transform="translate(189.00 197.20) scale(1.150 1)" font-size="10.00" text-anchor="middle">1</text><text transform="translate(194.10 197.20) scale(1.150 1)" font-size="10.00" text-anchor="middle">0</text><path d="M197.80 191.45H202.60" stroke="#3a3a3a" stroke-width="0.80" fill="none"/><text transform="translate(205.40 193.40) scale(1.200 1)" font-size="7.30" text-anchor="middle">3</text>
<text transform="translate(219.80 224.40) scale(1.150 1)" font-size="10.00" text-anchor="middle">4</text><text transform="translate(223.70 224.40) scale(1.000 1)" font-size="10.00" text-anchor="middle">·</text><text transform="translate(228.20 224.40) scale(1.150 1)" font-size="10.00" text-anchor="middle">1</text><text transform="translate(233.30 224.40) scale(1.150 1)" font-size="10.00" text-anchor="middle">0</text><path d="M237.00 218.65H241.80" stroke="#3a3a3a" stroke-width="0.80" fill="none"/><text transform="translate(244.60 220.60) scale(1.200 1)" font-size="7.30" text-anchor="middle">3</text>
<text transform="translate(273.00 224.40) scale(1.150 1)" font-size="10.00" text-anchor="middle">7</text><text transform="translate(276.90 224.40) scale(1.000 1)" font-size="10.00" text-anchor="middle">·</text><text transform="translate(281.40 224.40) scale(1.150 1)" font-size="10.00" text-anchor="middle">1</text><text transform="translate(286.50 224.40) scale(1.150 1)" font-size="10.00" text-anchor="middle">0</text><path d="M290.20 218.65H295.00" stroke="#3a3a3a" stroke-width="0.80" fill="none"/><text transform="translate(297.80 220.60) scale(1.200 1)" font-size="7.30" text-anchor="middle">3</text>
<text transform="translate(326.40 224.40) scale(1.150 1)" font-size="10.00" text-anchor="middle">1</text><text transform="translate(330.30 224.40) scale(1.000 1)" font-size="10.00" text-anchor="middle">·</text><text transform="translate(334.80 224.40) scale(1.150 1)" font-size="10.00" text-anchor="middle">1</text><text transform="translate(339.90 224.40) scale(1.150 1)" font-size="10.00" text-anchor="middle">0</text><path d="M343.60 218.65H348.40" stroke="#3a3a3a" stroke-width="0.80" fill="none"/><text transform="translate(351.20 220.60) scale(1.200 1)" font-size="7.30" text-anchor="middle">2</text>
<text x="242.20" y="166.90" font-size="10.60" textLength="7.00" lengthAdjust="spacingAndGlyphs" text-anchor="start">T</text>
<text x="278.90" y="194.50" font-size="10.60" textLength="5.40" lengthAdjust="spacingAndGlyphs" text-anchor="start">L</text>
<text x="270.10" y="86.70" font-size="10.60" textLength="9.10" lengthAdjust="spacingAndGlyphs" text-anchor="start">M</text>
<text x="279.60" y="88.60" font-size="8.00" textLength="5.20" lengthAdjust="spacingAndGlyphs" text-anchor="start">L</text>
<g transform="translate(355.8 159.7) rotate(-90)"><text x="0.00" y="0.00" font-size="10.60" textLength="9.00" lengthAdjust="spacingAndGlyphs" text-anchor="start">M</text><text x="9.40" y="2.00" font-size="8.00" textLength="5.40" lengthAdjust="spacingAndGlyphs" text-anchor="start">T</text></g>
<text x="323.20" y="30.55" font-size="10.60" textLength="19.40" lengthAdjust="spacingAndGlyphs" text-anchor="start">Full:</text>
<text x="345.10" y="30.55" font-size="10.60" textLength="8.90" lengthAdjust="spacingAndGlyphs" text-anchor="start">M</text><text x="354.60" y="32.35" font-size="8.00" textLength="5.10" lengthAdjust="spacingAndGlyphs" text-anchor="start">L</text><path d="M348.10 22.35H351.80" stroke="#3a3a3a" stroke-width="0.70" fill="none"/>
<text x="306.60" y="44.80" font-size="10.60" textLength="36.00" lengthAdjust="spacingAndGlyphs" text-anchor="start">Dashed:</text>
<text x="345.10" y="44.80" font-size="10.60" textLength="8.90" lengthAdjust="spacingAndGlyphs" text-anchor="start">M</text><text x="354.60" y="46.60" font-size="8.00" textLength="5.50" lengthAdjust="spacingAndGlyphs" text-anchor="start">T</text><path d="M348.10 36.60H351.80" stroke="#3a3a3a" stroke-width="0.70" fill="none"/>
<text x="259.10" y="58.80" font-size="10.60" textLength="16.00" lengthAdjust="spacingAndGlyphs" text-anchor="start">Dot</text>
<path d="M276.00 56.20H283.30" stroke="#3a3a3a" stroke-width="0.70" fill="none"/>
<text x="284.20" y="58.80" font-size="10.60" textLength="33.50" lengthAdjust="spacingAndGlyphs" text-anchor="start">dashed:</text>
<text x="321.30" y="58.80" font-size="10.60" textLength="8.90" lengthAdjust="spacingAndGlyphs" text-anchor="start">M</text><text x="330.80" y="60.60" font-size="8.00" textLength="5.10" lengthAdjust="spacingAndGlyphs" text-anchor="start">L</text><path d="M324.30 50.60H328.00" stroke="#3a3a3a" stroke-width="0.70" fill="none"/>
<path d="M337.00 54.30H344.20" stroke="#3a3a3a" stroke-width="0.50" fill="none"/><path d="M337.00 55.90H344.20" stroke="#3a3a3a" stroke-width="0.50" fill="none"/><path d="M337.00 57.50H344.20" stroke="#3a3a3a" stroke-width="0.50" fill="none"/>
<text x="345.10" y="58.80" font-size="10.60" textLength="8.90" lengthAdjust="spacingAndGlyphs" text-anchor="start">M</text><text x="354.60" y="60.60" font-size="8.00" textLength="5.50" lengthAdjust="spacingAndGlyphs" text-anchor="start">T</text><path d="M348.10 50.60H351.80" stroke="#3a3a3a" stroke-width="0.70" fill="none"/>
</g>
</svg>
</body></html>
